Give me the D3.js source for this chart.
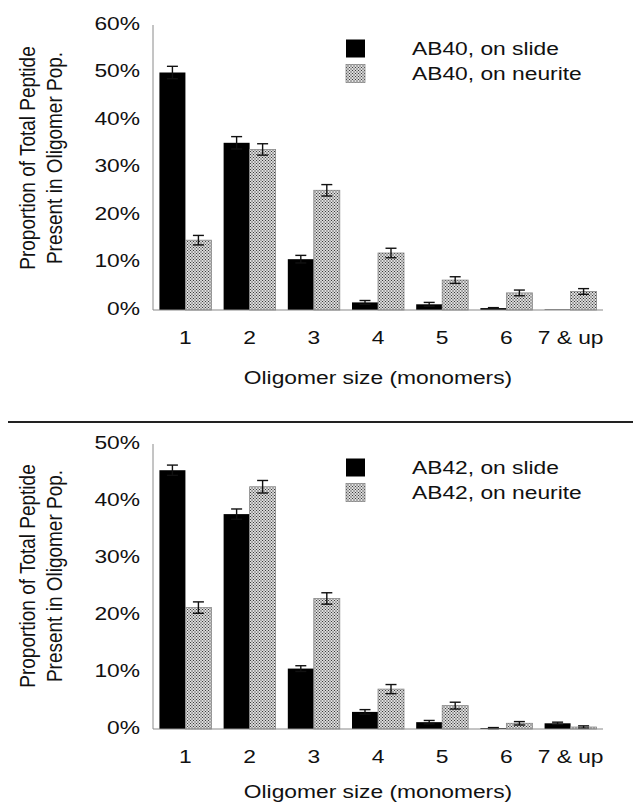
<!DOCTYPE html>
<html>
<head>
<meta charset="utf-8">
<script src="https://cdn.jsdelivr.net/npm/d3@7"></script>
<style>
  html, body { margin: 0; padding: 0; background: #fff; }
  svg { display: block; font-family: "Liberation Sans", Arial, sans-serif; }
</style>
</head>
<body>
<svg id="chart" width="633" height="806"></svg>
<script>
// ---- data ----
const categories = ["1", "2", "3", "4", "5", "6", "7 & up"];

const ab40Slide      = [50.0, 35.2, 10.7, 1.6, 1.2, 0.4, 0.1];
const ab40SlideErr   = [1.3, 1.3, 0.8, 0.4, 0.4, 0.1, 0.0];
const ab40Neurite    = [14.7, 33.8, 25.2, 12.0, 6.3, 3.6, 3.9];
const ab40NeuriteErr = [1.0, 1.2, 1.2, 1.0, 0.7, 0.6, 0.6];

const ab42Slide      = [45.4, 37.7, 10.6, 3.0, 1.2, 0.15, 1.0];
const ab42SlideErr   = [0.9, 0.9, 0.5, 0.4, 0.3, 0.1, 0.2];
const ab42Neurite    = [21.3, 42.5, 22.9, 7.0, 4.1, 1.0, 0.35];
const ab42NeuriteErr = [1.0, 1.1, 1.0, 0.8, 0.6, 0.3, 0.2];

const topTicks = [0, 10, 20, 30, 40, 50, 60];
const bottomTicks = [0, 10, 20, 30, 40, 50];

const legendTop = ["AB40, on slide", "AB40, on neurite"];
const legendBottom = ["AB42, on slide", "AB42, on neurite"];

const xTitle = "Oligomer size (monomers)";
const yTitle = ["Proportion of Total Peptide", "Present in Oligomer Pop."];

// ---- drawing ----
const svg = d3.select("#chart");
const SX = 1.2; // horizontal stretch of the original figure text

const defs = svg.append("defs");
const pat = defs.append("pattern")
  .attr("id", "hatch")
  .attr("patternUnits", "userSpaceOnUse")
  .attr("width", 3).attr("height", 3);
pat.append("rect").attr("width", 3).attr("height", 3).attr("fill", "#fff");
[[0,0],[3,0],[0,3],[3,3],[1.5,1.5]].forEach(([cx, cy]) =>
  pat.append("circle").attr("cx", cx).attr("cy", cy).attr("r", 0.8).attr("fill", "#3a3a3a"));

function stretchedText(g, x, y, txt, anchor, size) {
  return g.append("text")
    .attr("transform", `translate(${x},${y}) scale(${SX},1)`)
    .attr("text-anchor", anchor)
    .attr("font-size", size)
    .attr("fill", "#111")
    .text(txt);
}

function drawPanel(opts) {
  const { offsetY, yMax, ticks, slide, slideErr, neurite, neuriteErr, legend, titleY, yTitleC } = opts;
  const g = svg.append("g").attr("transform", `translate(0,${offsetY})`);

  const x0 = 153, x1 = 603, yTop = 25, yBot = 310;
  const x = d3.scaleBand().domain(categories).range([x0, x1])
    .paddingInner(0.19).paddingOuter(0.1);
  const y = d3.scaleLinear().domain([0, yMax]).range([yBot, yTop]);
  const bw = x.bandwidth() / 2;

  // y tick labels
  ticks.forEach(t => {
    stretchedText(g, 140, y(t) + 4.5, t + "%", "end", 19);
  });

  // axes lines
  g.append("line").attr("x1", x0).attr("x2", x0).attr("y1", yTop).attr("y2", yBot)
    .attr("stroke", "#8a8a8a").attr("stroke-width", 1);

  // bars
  const series = [
    { vals: slide, errs: slideErr, fill: "#000", stroke: "none", off: 0 },
    { vals: neurite, errs: neuriteErr, fill: "url(#hatch)", stroke: "#888", off: bw }
  ];
  series.forEach(s => {
    g.selectAll(null).data(categories).enter().append("rect")
      .attr("x", d => x(d) + s.off)
      .attr("y", (d, i) => y(s.vals[i]))
      .attr("width", bw)
      .attr("height", (d, i) => yBot - y(s.vals[i]))
      .attr("fill", s.fill)
      .attr("stroke", s.stroke)
      .attr("stroke-width", 0.8);
  });
  // error bars
  series.forEach(s => {
    categories.forEach((c, i) => {
      if (s.errs[i] <= 0) return;
      const cx = x(c) + s.off + bw / 2;
      const hi = y(s.vals[i] + s.errs[i]);
      const lo = y(Math.max(0, s.vals[i] - s.errs[i]));
      const eg = g.append("g").attr("stroke", "#111").attr("stroke-width", 1.4);
      eg.append("line").attr("x1", cx).attr("x2", cx).attr("y1", hi).attr("y2", lo);
      eg.append("line").attr("x1", cx - 5.5).attr("x2", cx + 5.5).attr("y1", hi).attr("y2", hi);
      eg.append("line").attr("x1", cx - 5.5).attr("x2", cx + 5.5).attr("y1", lo).attr("y2", lo);
    });
  });

  g.append("line").attr("x1", x0).attr("x2", x1).attr("y1", yBot).attr("y2", yBot)
    .attr("stroke", "#8a8a8a").attr("stroke-width", 1.2);

  // category labels
  categories.forEach(c => {
    stretchedText(g, x(c) + x.bandwidth() / 2, 344, c, "middle", 19);
  });

  // x title
  stretchedText(g, 378, titleY, xTitle, "middle", 19);

  // y title (stretched like the rest of the figure)
  const yt = g.append("text")
    .attr("transform", `translate(0,${yTitleC}) scale(${SX},1) rotate(-90)`)
    .attr("text-anchor", "middle")
    .attr("font-size", 19)
    .attr("fill", "#111");
  yt.append("tspan").attr("x", 0).attr("y", 35 / SX).text(yTitle[0]);
  yt.append("tspan").attr("x", 0).attr("y", 62 / SX).text(yTitle[1]);

  // legend
  const lx = 346, ly = [48.5, 73.5];
  g.append("rect").attr("x", lx).attr("y", ly[0] - 9).attr("width", 19).attr("height", 18)
    .attr("fill", "#000");
  g.append("rect").attr("x", lx).attr("y", ly[1] - 9).attr("width", 19).attr("height", 18)
    .attr("fill", "url(#hatch)").attr("stroke", "#888").attr("stroke-width", 0.8);
  legend.forEach((t, i) => {
    stretchedText(g, 412, ly[i] + 6.8, t, "start", 19);
  });
}

drawPanel({ offsetY: 0, yMax: 60, ticks: topTicks,
  slide: ab40Slide, slideErr: ab40SlideErr, neurite: ab40Neurite, neuriteErr: ab40NeuriteErr,
  legend: legendTop, titleY: 384, yTitleC: 158 });

drawPanel({ offsetY: 419, yMax: 50, ticks: bottomTicks,
  slide: ab42Slide, slideErr: ab42SlideErr, neurite: ab42Neurite, neuriteErr: ab42NeuriteErr,
  legend: legendBottom, titleY: 379, yTitleC: 157 });

// divider line
svg.append("line").attr("x1", 8).attr("x2", 633).attr("y1", 422).attr("y2", 422)
  .attr("stroke", "#222").attr("stroke-width", 2);
</script>
</body>
</html>
